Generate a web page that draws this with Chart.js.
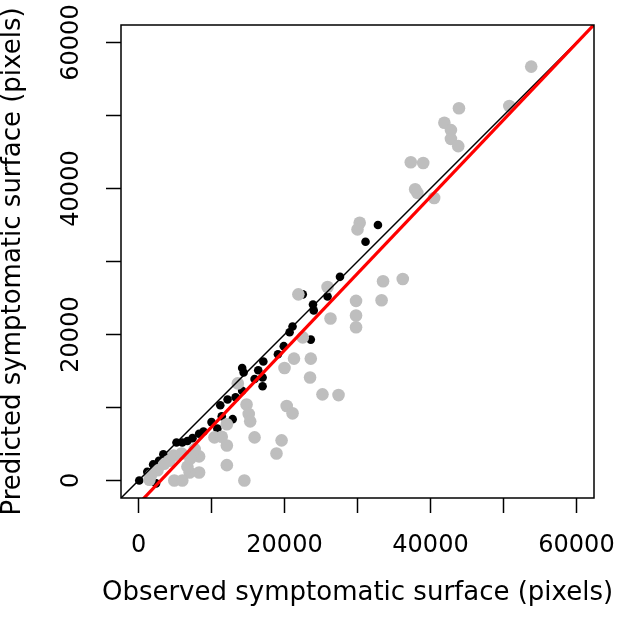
<!DOCTYPE html>
<html>
<head>
<meta charset="utf-8">
<script src="https://cdn.jsdelivr.net/npm/chart.js@4"></script>
<style>
body { margin: 0; background: #fff; }
#wrap { width: 619px; height: 618px; }
</style>
</head>
<body>
<div id="wrap"><canvas id="myChart" width="619" height="618"></canvas></div>
<script>
// observed vs predicted, black = calibration set
const black_x = [100, 1200, 2000, 2800, 2400, 3400, 5200, 6000, 6700, 7400, 8300, 8900, 10000, 10800, 11200,
    11400, 12200, 12900, 13300, 14200, 14200, 14400, 15900, 16400, 17000, 17000, 17100, 19100, 19900, 20700,
    21100, 22500, 23600, 23900, 24000, 25900, 27600, 31100, 32800];
const black_y = [0, 1200, 2200, 2700, -400, 3600, 5200, 5200, 5400, 5800, 6400, 6700, 8000, 7100, 10300,
    8800, 11100, 8400, 11400, 12300, 15400, 14800, 13900, 15100, 14100, 12900, 16300, 17300, 18400, 20300,
    21100, 25500, 19300, 24100, 23300, 25200, 27900, 32700, 35000];

// gray = validation set
const gray_x = [53800, 50800, 43900, 41900, 42800, 42800, 43800, 37300, 39000, 37900, 38200, 40500, 30300, 30000,
    33500, 36200, 33300, 29800, 29800, 29800, 26300, 25900, 21900, 22500, 21300, 23600, 20000, 23500, 25200, 27400,
    20300, 21100, 19600, 18900, 13600, 14800, 15100, 15300, 15900, 12100, 10400, 11400, 12100, 12100, 14500,
    8300, 8300, 7000, 6700, 4900, 6000, 4200, 4800, 5900, 7700, 1500, 2600, 3500, 7100, 1700];
const gray_y = [56700, 51300, 51000, 49000, 48000, 46800, 45800, 43600, 43500, 39900, 39400, 38700, 35300, 34400,
    27300, 27600, 24700, 24600, 22600, 21000, 22200, 26500, 25500, 19600, 16700, 16700, 15400, 14100, 11800, 11700,
    10200, 9200, 5500, 3700, 13300, 10400, 9100, 8100, 5900, 7700, 5900, 6000, 4800, 2100, 0,
    3300, 1100, 1100, 1900, 0, 0, 2700, 3400, 3700, 4300, 100, 1400, 2300, 3000, 700];

// regression line (red)
const fit_slope = 1.052;
const fit_intercept = -3200;

// axes
const axis_min = -2400;
const axis_max = 62400;
const tick_values = [0, 10000, 20000, 30000, 40000, 50000, 60000];
const tick_labels = ['0', '', '20000', '', '40000', '', '60000'];
const x_title = 'Observed symptomatic surface (pixels)';
const y_title = 'Predicted symptomatic surface (pixels)';

const font_family = "'DejaVu Sans', sans-serif";
Chart.defaults.font.family = font_family;
Chart.defaults.color = '#000';

// make point objects for chart.js
function to_points(xs, ys) {
    return xs.map(function(x, i) { return {x: x, y: ys[i]}; });
}

const line_x = [axis_min, axis_max];
const one_to_one = line_x.map(function(x) { return {x: x, y: x}; });
const fit_line = line_x.map(function(x) { return {x: x, y: fit_slope * x + fit_intercept}; });

// fixed ticks every 10000, labels every 20000
function set_ticks(scale) {
    scale.ticks = tick_values.map(function(v) { return {value: v}; });
}

// box around the plot region + axis titles (chart.js squeezes long titles to the axis width)
const frame_plugin = {
    id: 'frame',
    afterDraw(chart) {
        const ctx = chart.ctx;
        const area = chart.chartArea;
        ctx.save();
        ctx.strokeStyle = '#000';
        ctx.lineWidth = 1.5;
        ctx.strokeRect(area.left, area.top, area.right - area.left, area.bottom - area.top);

        ctx.fillStyle = '#000';
        ctx.font = '26px ' + font_family;
        ctx.textAlign = 'center';
        ctx.textBaseline = 'middle';
        // x title
        ctx.fillText(x_title, (area.left + area.right) / 2, 593);
        // y title, rotated
        ctx.translate(13.6, (area.top + area.bottom) / 2);
        ctx.rotate(-Math.PI / 2);
        ctx.fillText(y_title, 0, 0);
        ctx.restore();
    }
};

const grid_opts = {
    drawOnChartArea: false,
    drawTicks: true,
    tickLength: 15,
    tickColor: '#000',
    tickWidth: 1.5
};

const config = {
    type: 'scatter',
    data: {
        datasets: [
            { label: 'fit', data: fit_line, showLine: true, borderColor: '#ff0000', borderWidth: 3.2, pointRadius: 0 },
            { label: '1:1', data: one_to_one, showLine: true, borderColor: '#000', borderWidth: 1.5, pointRadius: 0 },
            { label: 'validation', data: to_points(gray_x, gray_y), backgroundColor: '#bebebe', borderWidth: 0, pointRadius: 6.3 },
            { label: 'calibration', data: to_points(black_x, black_y), backgroundColor: '#000', borderWidth: 0, pointRadius: 4.3 }
        ]
    },
    options: {
        responsive: false,
        animation: false,
        layout: { padding: { top: 25, right: 25, left: 0, bottom: 0 } },
        plugins: { legend: { display: false }, tooltip: { enabled: false } },
        scales: {
            x: {
                type: 'linear', min: axis_min, max: axis_max,
                afterBuildTicks: set_ticks,
                afterFit: function(scale) { scale.height = 120; scale.paddingLeft = 0; scale.paddingRight = 0; },
                grid: grid_opts,
                border: { display: false },
                ticks: { autoSkip: false, minRotation: 0, maxRotation: 0, padding: 18, font: { size: 24 },
                    callback: function(value, index) { return tick_labels[index]; } }
            },
            y: {
                type: 'linear', min: axis_min, max: axis_max,
                afterBuildTicks: set_ticks,
                afterFit: function(scale) { scale.width = 121; scale.paddingTop = 0; scale.paddingBottom = 0; },
                grid: grid_opts,
                border: { display: false },
                ticks: { autoSkip: false, minRotation: 90, maxRotation: 90, crossAlign: 'center', padding: -4, font: { size: 24 },
                    callback: function(value, index) { return tick_labels[index]; } }
            }
        }
    },
    plugins: [frame_plugin]
};

const myChart = new Chart(document.getElementById('myChart'), config);
</script>
</body>
</html>
